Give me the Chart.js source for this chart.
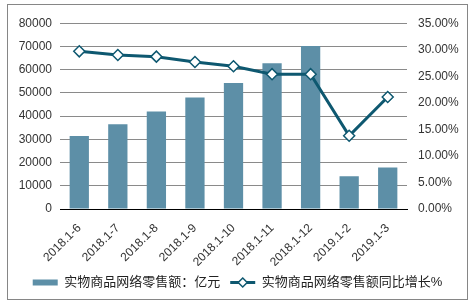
<!DOCTYPE html>
<html>
<head>
<meta charset="utf-8">
<script src="https://cdn.jsdelivr.net/npm/chart.js@4"></script>
<style>
    body { margin: 0; background: #fff; }
    #wrap { position: absolute; left: 7px; top: 4px; width: 459px; height: 294px; border: 1px solid #868686; }
</style>
</head>
<body>
<div id="wrap"><canvas id="mixChart" width="459" height="294"></canvas></div>
<script>
const months = ['2018.1-6','2018.1-7','2018.1-8','2018.1-9','2018.1-10','2018.1-11','2018.1-12','2019.1-2','2019.1-3'];
const salesValues = [31400, 36500, 42000, 48000, 54300, 62800, 70200, 14100, 17900];
const growthValues = [29.7, 29.0, 28.7, 27.7, 26.9, 25.4, 25.4, 13.8, 21.1];
const salesLabel = '实物商品网络零售额：亿元';
const growthLabel = '实物商品网络零售额同比增长%';

document.addEventListener('DOMContentLoaded', function () {

    const FONT = '"Liberation Sans", "Noto Sans CJK SC", sans-serif';
    const barColor = '#5d8fa7';
    const lineColor = '#0e5870';

    /* draws a diamond on top of the line legend swatch */
    const legendDiamond = {
        id: 'legendDiamond',
        afterDraw(chart) {
            const legend = chart.legend;
            if (!legend || !legend.legendHitBoxes) return;
            const box = legend.legendHitBoxes[1];
            const ctx = chart.ctx;
            const cx = box.left + 12.5;
            const cy = box.top + box.height / 2;
            const r = 4.5;
            ctx.save();
            ctx.beginPath();
            ctx.moveTo(cx, cy - r);
            ctx.lineTo(cx + r, cy);
            ctx.lineTo(cx, cy + r);
            ctx.lineTo(cx - r, cy);
            ctx.closePath();
            ctx.fillStyle = '#fff';
            ctx.fill();
            ctx.lineWidth = 1.5;
            ctx.strokeStyle = lineColor;
            ctx.stroke();
            ctx.restore();
        }
    };

    const ctx = document.getElementById('mixChart').getContext('2d');
    new Chart(ctx, {
        data: {
            labels: months,
            datasets: [{
                type: 'line',
                label: growthLabel,
                data: growthValues,
                yAxisID: 'y1',
                borderColor: lineColor,
                backgroundColor: lineColor,
                borderWidth: 3,
                pointStyle: 'rectRot',
                pointRadius: 5.5,
                pointBorderWidth: 1.5,
                pointBackgroundColor: '#fff',
                pointBorderColor: lineColor,
                tension: 0,
                order: 1
            }, {
                type: 'bar',
                label: salesLabel,
                data: salesValues,
                yAxisID: 'y',
                backgroundColor: barColor,
                borderWidth: 0,
                barPercentage: 0.5,
                categoryPercentage: 1,
                order: 2
            }]
        },
        options: {
            responsive: false,
            animation: false,
            layout: { padding: { top: 14, bottom: 0, left: 0, right: 0 } },
            plugins: {
                legend: {
                    position: 'bottom',
                    reverse: true,
                    labels: {
                        usePointStyle: true,
                        pointStyleWidth: 25,
                        boxHeight: 6,
                        padding: 10,
                        color: '#222',
                        font: { family: FONT, size: 13 },
                        generateLabels(chart) {
                            const items = Chart.defaults.plugins.legend.labels.generateLabels(chart);
                            items.forEach(it => {
                                const ds = chart.data.datasets[it.datasetIndex];
                                it.pointStyle = ds.type === 'line' ? 'line' : 'rect';
                                if (ds.type === 'line') it.lineWidth = 3;
                            });
                            return items;
                        }
                    }
                },
                tooltip: { enabled: false }
            },
            scales: {
                x: {
                    grid: { display: false },
                    border: { display: true, color: '#000', width: 1 },
                    ticks: {
                        maxRotation: 45, minRotation: 45, padding: 4,
                        color: '#333', font: { family: FONT, size: 12 }
                    },
                    afterFit(scale) { scale.height = 57; }
                },
                y: {
                    position: 'left',
                    min: 0, max: 80000,
                    ticks: {
                        stepSize: 10000, padding: 8,
                        color: '#333', font: { family: FONT, size: 12 },
                        callback: v => String(v)
                    },
                    grid: { color: '#8a8a8a', drawTicks: false },
                    border: { display: false },
                    afterFit(scale) { scale.width = 52; }
                },
                y1: {
                    position: 'right',
                    min: 0, max: 35,
                    ticks: {
                        stepSize: 5, padding: 11,
                        color: '#333', font: { family: FONT, size: 12 },
                        callback: v => v.toFixed(2) + '%'
                    },
                    grid: { display: false, drawTicks: false },
                    border: { display: false },
                    afterFit(scale) { scale.width = 60; }
                }
            }
        },
        plugins: [legendDiamond]
    });

});
</script>
</body>
</html>
